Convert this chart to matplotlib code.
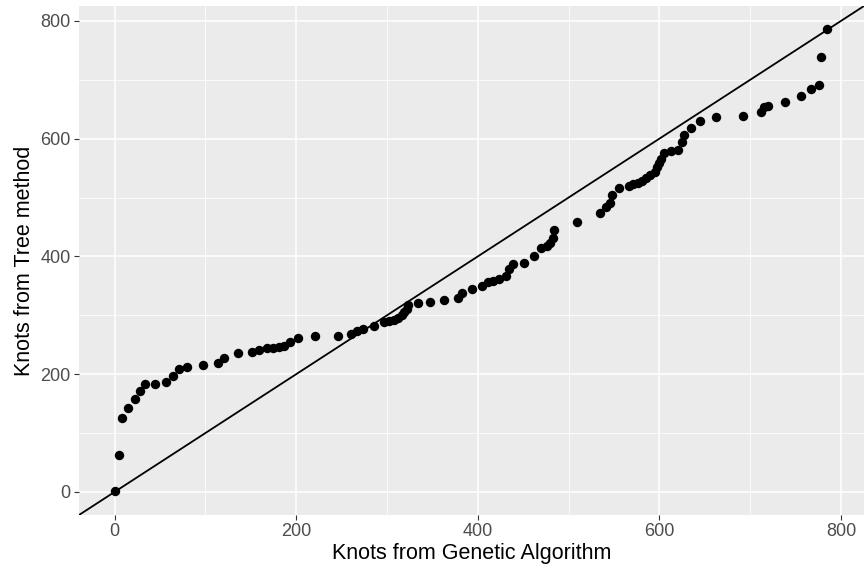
import matplotlib
matplotlib.use("Agg")
import matplotlib.pyplot as plt
import numpy as np

plt.rcParams['font.family'] = ['Liberation Sans', 'DejaVu Sans']

# quantiles (sorted, QQ style)
knots_ga = [0, 5, 8, 15, 22, 28, 33, 44, 57, 64, 71, 80, 97, 114, 120, 136,
            151, 159, 168, 174, 181, 186, 193, 202, 221, 246, 260, 267, 273,
            286, 297, 302, 308, 312, 316, 319, 322, 323, 334, 347, 363, 378,
            383, 393, 405, 411, 417, 423, 431, 434, 439, 451, 462, 470, 476,
            480, 483, 484, 509, 535, 541, 545, 548, 556, 566, 571, 576, 581,
            585, 590, 595, 597, 600, 602, 605, 613, 620, 625, 627, 635, 645,
            662, 692, 712, 715, 720, 738, 756, 767, 776, 778, 785]
knots_tree = [1, 62, 126, 143, 158, 171, 183, 184, 186, 197, 209, 212, 216,
              219, 228, 236, 238, 241, 244, 245, 246, 248, 255, 262, 264, 265,
              269, 273, 276, 282, 289, 291, 292, 295, 300, 305, 311, 317, 320,
              322, 326, 330, 337, 344, 350, 356, 359, 361, 367, 379, 387, 388,
              401, 414, 418, 423, 431, 445, 459, 473, 484, 490, 504, 516, 520,
              523, 525, 528, 533, 538, 543, 551, 559, 566, 575, 579, 580, 594,
              607, 618, 630, 636, 638, 645, 653, 656, 662, 673, 685, 691, 739,
              786]

major_ticks = [0, 200, 400, 600, 800]
minor_ticks = [100, 300, 500, 700]

fig = plt.figure(figsize=(8.64, 5.71), dpi=100)
ax = fig.add_axes([79 / 864, 56 / 571, 1 - 79 / 864, 509 / 571])
ax.set_facecolor("#EBEBEB")

# ggplot-like grid
ax.set_xticks(major_ticks)
ax.set_yticks(major_ticks)
ax.set_xticks(minor_ticks, minor=True)
ax.set_yticks(minor_ticks, minor=True)
ax.grid(which="major", color="white", linewidth=1.1)
ax.grid(which="minor", color="white", linewidth=0.55)
ax.set_axisbelow(True)
for s in ax.spines.values():
    s.set_visible(False)
ax.tick_params(which="major", length=3.5, width=0.8, color="#333333",
               labelcolor="#4D4D4D", labelsize=13, pad=2.5)
ax.tick_params(which="minor", length=0)

ax.scatter(knots_ga, knots_tree, s=46, color="black", zorder=3, linewidths=0)
ax.axline((0, 0), slope=1, color="black", linewidth=1.3, zorder=2)

lo = min(knots_ga + knots_tree)
hi = max(knots_ga + knots_tree)
pad = 0.05 * (hi - lo)
ax.set_xlim(lo - pad, hi + pad)
ax.set_ylim(lo - pad, hi + pad)

ax.set_xlabel("Knots from Genetic Algorithm", fontsize=15.5, labelpad=2)
ax.set_ylabel("Knots from Tree method", fontsize=15.5, labelpad=4)

fig.savefig("out.png", dpi=100)
